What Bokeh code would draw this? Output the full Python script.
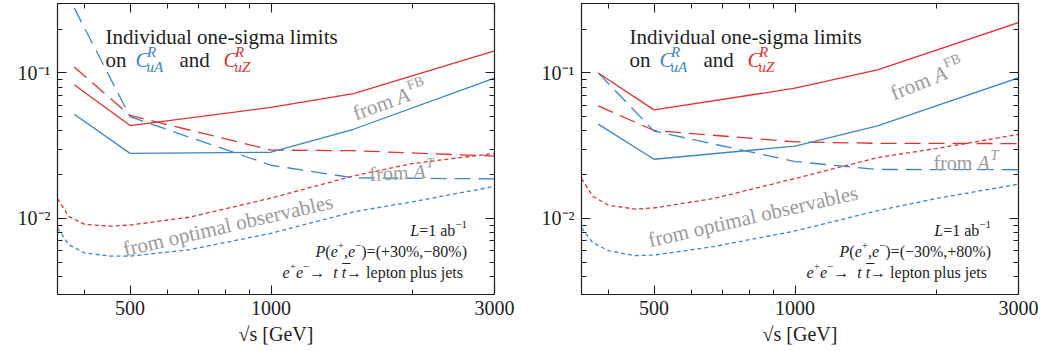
import numpy as np
from bokeh.plotting import figure
from bokeh.models import LogAxis, FixedTicker, Range1d
from bokeh.layouts import row
from bokeh.embed import file_html
from bokeh.resources import INLINE
from bokeh.core.properties import value

# ---------------- data ----------------
sqrt_s = [380, 500, 1000, 1500, 3000]
sqrt_s_oo = [350, 370, 400, 455, 500, 670, 1000, 1500, 2000, 3000]

# left panel: P(e+,e-) = (+30%, -80%)
L_uA_AFB = [0.052, 0.028, 0.0285, 0.041, 0.092]
L_uZ_AFB = [0.083, 0.0435, 0.058, 0.072, 0.142]
L_uA_AT = [0.28, 0.050, 0.0232, 0.0190, 0.0187]
L_uZ_AT = [0.110, 0.051, 0.0295, 0.0292, 0.0268]
L_uZ_OO = [0.0137, 0.0103, 0.0091, 0.00885, 0.0090, 0.0102, 0.0138, 0.0196, 0.0238, 0.0280]
L_uA_OO = [0.0086, 0.0066, 0.0058, 0.0055, 0.0055, 0.0061, 0.0079, 0.0111, 0.0130, 0.0166]

# right panel: P(e+,e-) = (-30%, +80%)
R_uA_AFB = [0.0445, 0.0255, 0.0314, 0.0432, 0.0925]
R_uZ_AFB = [0.100, 0.0557, 0.0785, 0.105, 0.222]
R_uA_AT = [0.100, 0.0398, 0.0246, 0.0217, 0.0216]
R_uZ_AT = [0.0594, 0.0402, 0.0336, 0.0328, 0.0327]
R_uZ_OO = [0.0188, 0.0142, 0.0123, 0.0116, 0.0118, 0.0137, 0.0188, 0.0262, 0.0302, 0.0378]
R_uA_OO = [0.0086, 0.0068, 0.0060, 0.00555, 0.0056, 0.0064, 0.0082, 0.0113, 0.0137, 0.0172]

X_TICKS = [500, 1000, 3000]
X_LABELS = ["500", "1000", "3000"]
X_MINOR = [400, 600, 700, 800, 900, 2000]
Y_TICKS = [0.01, 0.1]
Y_LABELS = ["10⁻²", "10⁻¹"]
Y_MINOR = [0.004, 0.005, 0.006, 0.007, 0.008, 0.009,
           0.02, 0.03, 0.04, 0.05, 0.06, 0.07, 0.08, 0.09, 0.2, 0.3]

POL_TAILS = [")=(+30%,−80%)", ")=(−30%,+80%)"]

# ---------------- style ----------------
BLUE = "#3a86c8"
RED = "#e2312f"
GRAY = "#9a9a9a"
INK = "#1e1e1e"
FONT = "Liberation Serif"
X0, X1 = 350, 3000
Y0, Y1 = 0.003, 0.3
FW, FH = 437, 291

# Times / Liberation Serif advance widths (em)
TR = {" ": .25, "(": .333, ")": .333, ",": .25, "=": .564, "+": .564, "−": .564,
      "%": .833, "a": .444, "b": .5, "→": 1.0, "l": .278, "e": .444, "p": .5,
      "t": .278, "o": .5, "n": .5, "u": .5, "s": .389, "j": .278}
TI = {"P": .611, "e": .444, "L": .556, "t": .278}


def fpos(fx, fy):
    lx = np.log10(X0) + fx / FW * (np.log10(X1) - np.log10(X0))
    ly = np.log10(Y1) - fy / FH * (np.log10(Y1) - np.log10(Y0))
    return float(10 ** lx), float(10 ** ly)


def lab(p, fx, fy, text, size, color=INK, style="normal", align="left", angle=0):
    x, y = fpos(fx, fy)
    p.text(x=[x], y=[y], text=[text], text_font=value(FONT),
           text_font_size=value(f"{size}px"), text_font_style=value(style),
           text_color=value(color), text_align=value(align),
           text_baseline=value("alphabetic"), angle=value(float(angle)), angle_units="deg")


def seq(p, fx_right, fy, pieces, size=16, sub=11, rise=6):
    widths = []
    for txt, kind in pieces:
        s = sub if kind == "sup" else size
        tbl = TI if kind in ("it", "itbar") else TR
        widths.append(sum(tbl.get(c, 0.5) for c in txt) * s)
    x = fx_right - sum(widths)
    for (txt, kind), w in zip(pieces, widths):
        if kind == "sup":
            lab(p, x, fy - rise, txt, sub)
        elif kind == "it":
            lab(p, x, fy, txt, size, style="italic")
        elif kind == "itbar":
            lab(p, x, fy, txt, size, style="italic")
            lab(p, x + 0.5, fy - 2, "¯", size)
        else:
            lab(p, x, fy, txt, size)
        x += w


def along(fx, fy, ang, d, up):
    t = np.radians(ang)
    return (float(fx + d * np.cos(t) - up * np.sin(t)),
            float(fy - d * np.sin(t) - up * np.cos(t)))


def style_axis(ax, labels=True):
    ax.major_tick_in = 9
    ax.major_tick_out = 0
    ax.minor_tick_in = 5
    ax.minor_tick_out = 0
    ax.axis_line_color = INK
    ax.major_tick_line_color = INK
    ax.minor_tick_line_color = INK
    ax.axis_line_width = 1.1
    ax.major_tick_line_width = 1.1
    ax.minor_tick_line_width = 1.0
    ax.major_label_text_font = FONT
    ax.major_label_text_font_size = "20px"
    ax.major_label_text_color = INK
    if not labels:
        ax.major_label_text_font_size = "2px"
        ax.major_label_text_color = None
        ax.major_label_standoff = 0


def make_panel(width, left, right, uA_fb, uZ_fb, uA_t, uZ_t, uA_oo, uZ_oo, tail, right_panel):
    p = figure(width=width, height=351, x_axis_type="log", y_axis_type="log",
               x_range=Range1d(X0, X1), y_range=Range1d(Y0, Y1),
               min_border_left=left, min_border_right=right,
               min_border_top=3, min_border_bottom=57,
               output_backend="svg", toolbar_location=None)
    p.grid.visible = False
    p.outline_line_color = INK
    p.outline_line_width = 1.1

    xa = p.xaxis[0]
    ya = p.yaxis[0]
    xa.ticker = FixedTicker(ticks=X_TICKS, minor_ticks=X_MINOR)
    ya.ticker = FixedTicker(ticks=Y_TICKS, minor_ticks=Y_MINOR)
    style_axis(xa)
    style_axis(ya)
    xa.major_label_overrides = dict(zip(X_TICKS, X_LABELS))
    ya.major_label_overrides = dict(zip(Y_TICKS, Y_LABELS))
    xa.major_label_standoff = 6
    ya.major_label_standoff = 7
    xa.axis_label = "√s [GeV]"
    xa.axis_label_text_font = FONT
    xa.axis_label_text_font_size = "20px"
    xa.axis_label_text_font_style = "normal"
    xa.axis_label_text_color = INK
    xa.axis_label_standoff = 5

    top = LogAxis(ticker=FixedTicker(ticks=X_TICKS, minor_ticks=X_MINOR))
    style_axis(top, labels=False)
    p.add_layout(top, "above")
    rax = LogAxis(ticker=FixedTicker(ticks=Y_TICKS, minor_ticks=Y_MINOR))
    style_axis(rax, labels=False)
    p.add_layout(rax, "right")

    lw = 1.3
    p.line(sqrt_s_oo, uZ_oo, color=RED, line_width=lw, line_dash="4 3")
    p.line(sqrt_s_oo, uA_oo, color=BLUE, line_width=lw, line_dash="4 3")
    p.line(sqrt_s, uZ_t, color=RED, line_width=lw, line_dash="16 8")
    p.line(sqrt_s, uA_t, color=BLUE, line_width=lw, line_dash="16 8")
    p.line(sqrt_s, uZ_fb, color=RED, line_width=lw)
    p.line(sqrt_s, uA_fb, color=BLUE, line_width=lw)

    # title block
    lab(p, 48, 33, "Individual one-sigma limits", 21)
    lab(p, 48, 56.5, "on", 21)
    lab(p, 78, 56.5, "C", 21, BLUE, "italic")
    lab(p, 89.5, 48.5, "R", 15, BLUE, "italic")
    lab(p, 89, 63, "uA", 15, BLUE, "italic")
    lab(p, 122, 56.5, "and", 21)
    lab(p, 166, 56.5, "C", 21, RED, "italic")
    lab(p, 177.5, 48.5, "R", 15, RED, "italic")
    lab(p, 177, 63, "uZ", 15, RED, "italic")

    # conditions (built from pieces)
    seq(p, 409.5, 227, [("L", "it"), ("=1 ab", "reg"), ("−1", "sup")])
    seq(p, 409.5, 248, [("P", "it"), ("(", "reg"), ("e", "it"), ("+", "sup"),
                        (",", "reg"), ("e", "it"), ("−", "sup"), (tail, "reg")])
    seq(p, 409.5, 269, [("e", "it"), ("+", "sup"), ("e", "it"), ("−", "sup"),
                        (" → ", "reg"), ("t", "it"), (" ", "reg"), ("t", "itbar"),
                        (" → lepton plus jets", "reg")])

    # gray curve labels
    if not right_panel:
        oo = (66, 246, 13)
        fb = (296, 110.5, 20)
        at = (312, 170.5, 3)
    else:
        oo = (67, 237, 13)
        fb = (310, 90.5, 22)
        at = (352, 159.5, 0)
    lab(p, oo[0], oo[1], "from optimal observables", 21, GRAY, angle=oo[2])

    fx, fy, ang = fb
    lab(p, fx, fy, "from", 21, GRAY, angle=ang)
    ax_, ay_ = along(fx, fy, ang, 46, 0)
    lab(p, ax_, ay_, "A", 21, GRAY, "italic", angle=ang)
    sx, sy = along(fx, fy, ang, 60, 8)
    lab(p, sx, sy, "FB", 14, GRAY, angle=ang)

    fx, fy, ang = at
    lab(p, fx, fy, "from", 20, GRAY, angle=ang)
    ax_, ay_ = along(fx, fy, ang, 44, 0)
    lab(p, ax_, ay_, "A", 20, GRAY, "italic", angle=ang)
    sx, sy = along(fx, fy, ang, 57, 8)
    lab(p, sx, sy, "T", 14, GRAY, "italic", angle=ang)
    return p


p_left = make_panel(520, 57, 26, L_uA_AFB, L_uZ_AFB, L_uA_AT, L_uZ_AT,
                    L_uA_OO, L_uZ_OO, POL_TAILS[0], False)
p_right = make_panel(522, 61, 24, R_uA_AFB, R_uZ_AFB, R_uA_AT, R_uZ_AT,
                     R_uA_OO, R_uZ_OO, POL_TAILS[1], True)

layout = row(p_left, p_right)
open("out.html", "w").write(file_html(layout, INLINE))
